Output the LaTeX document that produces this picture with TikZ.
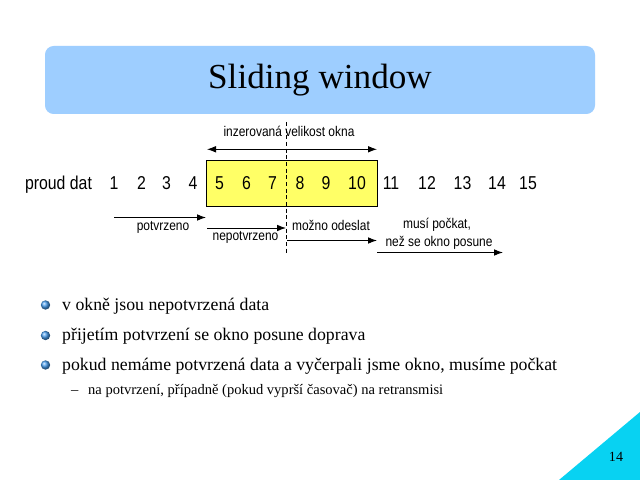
\documentclass[tikz,border=0pt]{standalone}
\usepackage{fontspec}
\setmainfont{Liberation Serif}
\newfontfamily\nar[FakeStretch=0.85]{Liberation Sans}
\usetikzlibrary{arrows.meta}
\definecolor{titleblue}{RGB}{158,206,255}
\definecolor{winyellow}{RGB}{255,255,102}
\definecolor{cornercyan}{RGB}{8,210,242}
\definecolor{bulletblue}{RGB}{70,155,235}
\tikzset{
  rowtext/.style={font=\nar\fontsize{15.9}{18}\selectfont, anchor=base, inner sep=0pt},
  labeltext/.style={font=\nar\fontsize{12}{14}\selectfont, anchor=base, inner sep=0pt},
  bullettext/.style={font=\fontsize{15.15}{18}\selectfont, anchor=base west, inner sep=0pt},
  subtext/.style={font=\fontsize{12.4}{14}\selectfont, anchor=base west, inner sep=0pt},
  tip/.tip={Latex[length=2.7mm,width=2mm]},
  arr/.style={line width=0.8pt, -tip},
  bulletball/.style={circle, inner sep=0pt, minimum size=2.8mm, ball color=bulletblue},
}
\begin{document}
\begin{tikzpicture}[x=0.03cm,y=-0.03cm]
\useasboundingbox (0,0) rectangle (640,480);
\fill[white] (0,0) rectangle (640,480);
% title
\fill[titleblue, rounded corners=2.6mm] (45,46) rectangle (595,114);
\node[font=\fontsize{30}{36}\selectfont, inner sep=0pt] (title) at (320,80) {Sliding window};
% window box
\node[draw, fill=winyellow, line width=0.6pt, inner sep=0pt, minimum width=5.13cm, minimum height=1.38cm] (win) at (291.5,183.3) {};
% row
\node[rowtext] (pd) at (58.5,190) {proud dat};
\foreach \n/\x in {1/114,2/141.5,3/166.5,4/193,5/219.5,6/246.5,7/272.5,8/300,9/326,10/357,11/391,12/427,13/462.5,14/497,15/528}
  \node[rowtext] (n\n) at (\x,190) {\n};
% dashed divider
\coordinate (dtop) at (286.5,122);
\coordinate (dbot) at (286.5,253);
\draw[line width=0.7pt, dash pattern=on 1.2mm off 0.8mm] (dtop) -- (dbot);
% advertised window
\node[labeltext] (adv) at (289,137) {inzerovaná velikost okna};
\coordinate (aL) at (207,149.3);
\coordinate (aR) at (377,149.3);
\draw[line width=0.8pt, tip-tip] (aL) -- (aR);
% potvrzeno
\coordinate (p1) at (114,217.5);
\coordinate (p2) at (206,217.5);
\draw[arr] (p1) -- (p2);
\node[labeltext] (pot) at (163,230) {potvrzeno};
% nepotvrzeno
\coordinate (q1) at (207,228);
\coordinate (q2) at (286,228);
\draw[arr] (q1) -- (q2);
\node[labeltext] (nep) at (245.5,240.5) {nepotvrzeno};
% mozno odeslat
\node[labeltext] (moz) at (331,231) {možno odeslat};
\coordinate (m1) at (287,240.5);
\coordinate (m2) at (377,240.5);
\draw[arr] (m1) -- (m2);
% musi pockat
\node[labeltext] (mus1) at (437,229) {musí počkat,};
\node[labeltext] (mus2) at (439,246) {než se okno posune};
\coordinate (w1) at (377,252.5);
\coordinate (w2) at (503,252.5);
\draw[arr] (w1) -- (w2);
% bullets
\node[bulletball] (b1) at (45.5,305) {};
\node[bulletball] (b2) at (45.5,335.5) {};
\node[bulletball] (b3) at (45.5,365) {};
\node[bullettext] (t1) at (62,310) {v okně jsou nepotvrzená data};
\node[bullettext] (t2) at (62,340) {přijetím potvrzení se okno posune doprava};
\node[bullettext] (t3) at (62,370) {pokud nemáme potvrzená data a vyčerpali jsme okno, musíme počkat};
\node[subtext] (dash) at (71,394) {–};
\node[subtext] (t4) at (88,394) {na potvrzení, případně (pokud vyprší časovač) na retransmisi};
% corner
\fill[cornercyan] (640,412) -- (640,480) -- (559,480) -- cycle;
\node[font=\fontsize{12}{14}\selectfont, anchor=base, inner sep=0pt] (pg) at (616,461) {14};
\end{tikzpicture}
\end{document}
